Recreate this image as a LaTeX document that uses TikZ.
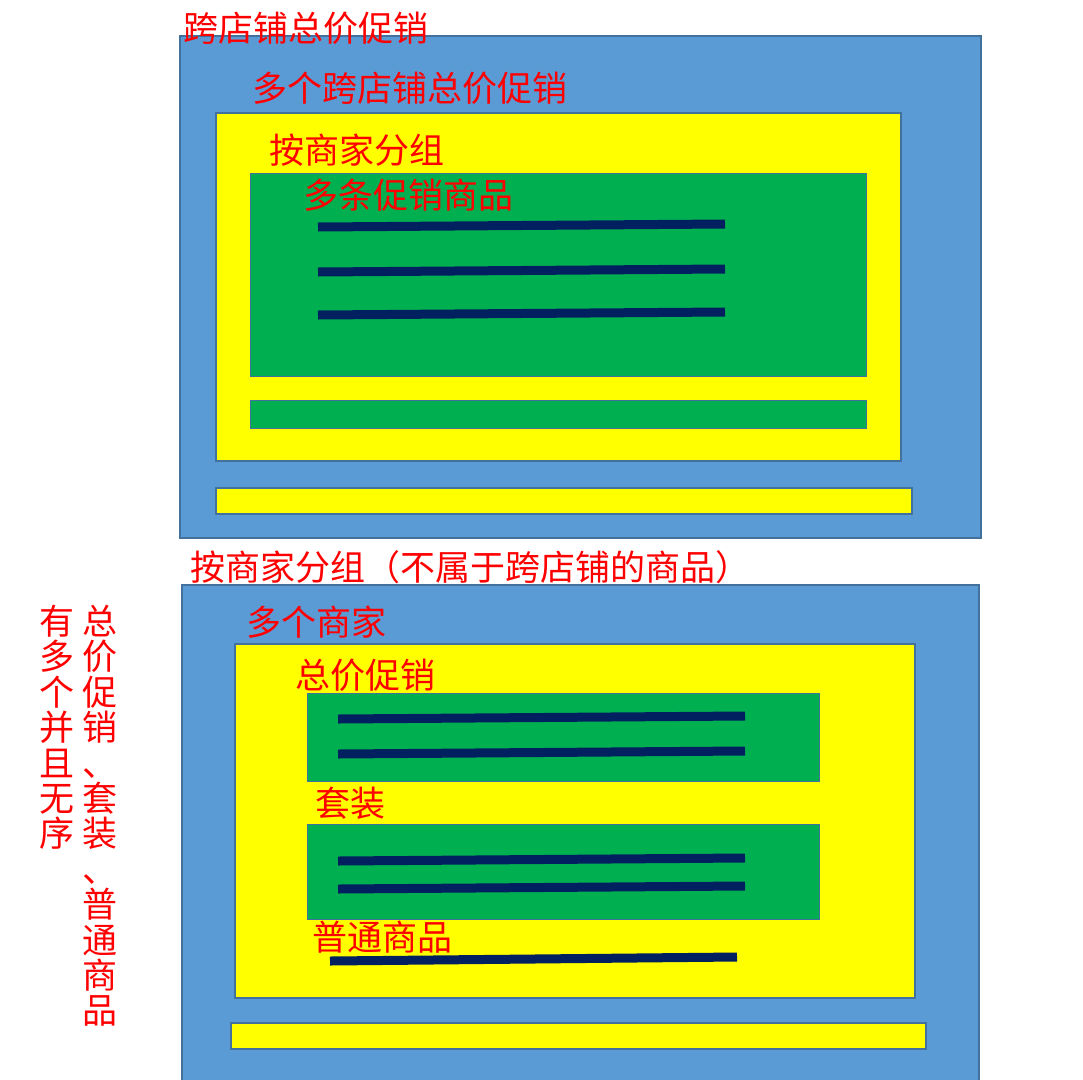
\documentclass[tikz,border=0pt]{standalone}
\usepackage{fontspec}
\newfontfamily\cjkfont{Noto Sans CJK SC}
\definecolor{panelblue}{HTML}{5B9BD5}
\definecolor{edgeblue}{HTML}{41719C}
\definecolor{groupyellow}{HTML}{FFFF00}
\definecolor{goodsgreen}{HTML}{00B050}
\definecolor{barnavy}{HTML}{002060}
\tikzset{
    panel/.style={draw=edgeblue,line width=2pt,fill=panelblue},
    group/.style={draw=edgeblue,line width=2pt,fill=groupyellow},
    goods/.style={draw=edgeblue,line width=1pt,fill=goodsgreen},
    bar/.style={draw=barnavy,line width=9pt},
    tag/.style={text=red,font=\cjkfont\fontsize{35}{35}\selectfont,inner sep=0pt,anchor=west},
    vtag/.style={text=red,font=\cjkfont\fontsize{35}{35}\selectfont,inner sep=0pt,
        text height=24pt,text depth=6pt}
}
\begin{document}
\begin{tikzpicture}[x=1pt,y=-1pt]
    \useasboundingbox (0,0) rectangle (1083,1079);
    %% Upper panel: cross-shop promotions
    \draw[panel] (180,36) rectangle (981,538);
    \draw[group] (216,113) rectangle (901,461);
    \draw[goods] (250,173) rectangle (866,376);
    \draw[bar] (318,227) -- (725,224);
    \draw[bar] (318,272) -- (725,269);
    \draw[bar] (318,315) -- (725,312);
    \draw[goods] (250,400) rectangle (866,428);
    \draw[group] (216,488) rectangle (912,514);
    \node[tag] (crossTitle) at (183,28) {跨店铺总价促销};
    \node[tag] (crossMany) at (252,88) {多个跨店铺总价促销};
    \node[tag] (crossShop) at (269,150) {按商家分组};
    \node[tag] (crossItems) at (303,195) {多条促销商品};
    %% Lower panel: goods grouped by shop
    \draw[panel] (182,585) rectangle (979,1085);
    \draw[group] (235,644) rectangle (915,998);
    \draw[goods] (307,693) rectangle (819,781);
    \draw[bar] (338,719) -- (745,716);
    \draw[bar] (338,754) -- (745,751);
    \draw[goods] (307,824) rectangle (819,919);
    \draw[bar] (338,861) -- (745,858);
    \draw[bar] (338,889) -- (745,886);
    \draw[bar] (330,961) -- (737,957);
    \draw[group] (231,1023) rectangle (926,1049);
    \node[tag] (shopTitle) at (190,567) {按商家分组（不属于跨店铺的商品）};
    \node[tag] (shopMany) at (246,622) {多个商家};
    \node[tag] (shopTotal) at (295,675) {总价促销};
    \node[tag] (shopSuit) at (315,803) {套装};
    \node[tag] (shopPlain) at (312,937) {普通商品};
    %% Vertical notes, left
    \foreach \ch [count=\i] in {有,多,个,并,且,无,序}
        \node[vtag] (noteA\i) at (57,590+35.4*\i) {\ch};
    \foreach \ch [count=\i] in {总,价,促,销,、,套,装,、,普,通,商,品}
        \node[vtag] (noteB\i) at (100,590+35.4*\i) {\ch};
\end{tikzpicture}
\end{document}
